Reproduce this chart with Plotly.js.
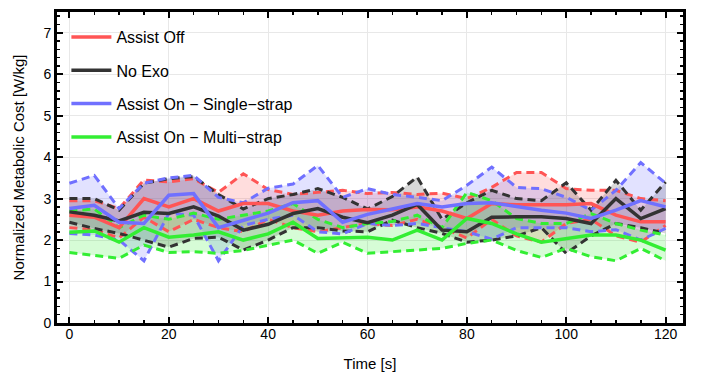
<!DOCTYPE html>
<html>
<head>
<meta charset="utf-8">
<script src="https://cdn.plot.ly/plotly-3.0.1.min.js"></script>
<style>
  html, body { margin: 0; padding: 0; background: #ffffff; }
  #chart { width: 702px; height: 378px; }
</style>
</head>
<body>
<div id="chart"></div>
<script>
// Time axis [s]
const time = [0, 5, 10, 15, 20, 25, 30, 35, 40, 45, 50, 55, 60, 65, 70, 75, 80, 85, 90, 95, 100, 105, 110, 115, 120];

// Assist Off
const offMean  = [2.60, 2.55, 2.30, 3.00, 2.80, 3.00, 2.70, 2.88, 2.88, 2.70, 2.60, 2.70, 2.74, 2.73, 2.80, 2.70, 2.52, 2.88, 2.85, 2.85, 2.85, 2.88, 2.60, 2.44, 2.44];
const offUpper = [2.95, 2.95, 2.76, 3.45, 3.40, 3.48, 3.15, 3.60, 3.22, 3.10, 3.15, 3.20, 3.12, 3.15, 3.10, 3.13, 3.00, 3.27, 3.63, 3.63, 3.24, 3.20, 3.20, 3.00, 2.95];
const offLower = [2.30, 2.25, 2.05, 2.55, 2.20, 2.50, 2.30, 2.20, 2.50, 2.30, 2.20, 2.30, 2.40, 2.35, 2.50, 2.30, 2.05, 2.50, 2.10, 1.95, 2.40, 2.50, 2.10, 1.95, 2.35];

// No Exo
const noExoMean  = [2.68, 2.60, 2.46, 2.67, 2.64, 2.80, 2.58, 2.24, 2.38, 2.64, 2.76, 2.55, 2.42, 2.60, 2.86, 2.24, 2.20, 2.55, 2.56, 2.56, 2.52, 2.40, 3.00, 2.52, 2.76];
const noExoUpper = [3.00, 3.00, 2.72, 3.37, 3.48, 3.53, 3.10, 2.75, 3.00, 3.10, 3.24, 3.03, 2.75, 3.05, 3.52, 2.50, 2.90, 3.20, 3.00, 2.95, 3.38, 2.72, 3.44, 2.72, 3.40];
const noExoLower = [2.43, 2.28, 2.16, 2.00, 1.83, 2.04, 2.07, 1.76, 2.00, 2.30, 2.30, 2.22, 2.20, 2.48, 2.30, 2.16, 1.95, 2.00, 2.10, 2.30, 1.68, 2.10, 2.40, 2.30, 2.16];

// Assist On - Single-strap
const singleMean  = [2.76, 2.84, 2.43, 2.40, 3.08, 3.12, 2.30, 2.48, 2.65, 2.90, 2.95, 2.43, 2.62, 2.75, 2.88, 2.80, 2.88, 2.90, 2.80, 2.72, 2.65, 2.52, 2.72, 2.95, 2.80];
const singleUpper = [3.37, 3.56, 2.76, 3.37, 3.50, 3.56, 3.03, 2.90, 3.25, 3.35, 3.80, 3.03, 3.24, 3.10, 3.03, 2.95, 3.32, 3.76, 3.27, 3.24, 3.03, 2.72, 3.20, 3.87, 3.37];
const singleLower = [2.16, 2.12, 2.00, 1.50, 2.64, 2.60, 1.50, 2.35, 2.50, 2.60, 2.20, 2.15, 2.40, 2.35, 2.40, 2.30, 2.20, 2.02, 2.30, 2.30, 2.30, 2.20, 2.25, 2.00, 2.28];

// Assist On - Multi-strap
const multiMean  = [2.19, 2.22, 1.95, 2.30, 2.07, 2.12, 2.20, 2.00, 2.15, 2.43, 2.04, 2.06, 2.07, 2.00, 2.24, 2.00, 2.52, 2.40, 2.15, 1.95, 2.04, 2.12, 2.12, 2.00, 1.76];
const multiUpper = [2.70, 2.75, 2.30, 2.60, 2.50, 2.65, 2.50, 2.60, 2.70, 2.88, 2.50, 2.30, 2.40, 2.45, 2.60, 2.30, 3.15, 2.95, 2.52, 2.40, 2.40, 2.64, 2.40, 2.24, 2.12];
const multiLower = [1.70, 1.63, 1.56, 1.88, 1.70, 1.72, 1.68, 1.75, 1.87, 2.00, 1.68, 1.95, 1.68, 1.72, 1.75, 1.80, 1.92, 2.00, 1.75, 1.58, 1.80, 1.60, 1.50, 1.80, 1.50];

const seriesNames = ["Assist Off", "No Exo", "Assist On \u2212 Single\u2212strap", "Assist On \u2212 Multi\u2212strap"];
const xTickVals = [0, 20, 40, 60, 80, 100, 120];
const yTickVals = [0, 1, 2, 3, 4, 5, 6, 7];

const series = [
  { name: seriesNames[0], mean: offMean,    upper: offUpper,    lower: offLower,    color: "#ff5555", fill: "rgba(255,85,85,0.2)" },
  { name: seriesNames[1], mean: noExoMean,  upper: noExoUpper,  lower: noExoLower,  color: "#333333", fill: "rgba(60,60,60,0.2)" },
  { name: seriesNames[2], mean: singleMean, upper: singleUpper, lower: singleLower, color: "#7070ff", fill: "rgba(112,112,255,0.2)" },
  { name: seriesNames[3], mean: multiMean,  upper: multiUpper,  lower: multiLower,  color: "#33ee33", fill: "rgba(51,238,51,0.2)" }
];

const traces = [];
series.forEach((s, i) => {
  traces.push({
    x: time.concat(time.slice().reverse()),
    y: s.upper.concat(s.lower.slice().reverse()),
    type: "scatter", mode: "lines", fill: "toself", fillcolor: s.fill,
    line: { width: 0, color: "rgba(0,0,0,0)" },
    hoverinfo: "skip", showlegend: false
  });
});
series.forEach((s, i) => {
  ["upper", "lower"].forEach(k => {
    traces.push({
      x: time, y: s[k], type: "scatter", mode: "lines",
      line: { color: s.color, width: 3, dash: "8px,5px" },
      showlegend: false, hoverinfo: "skip"
    });
  });
});
series.forEach((s, i) => {
  traces.push({
    x: time, y: s.mean, type: "scatter", mode: "lines", name: s.name,
    legendgroup: "g" + i,
    line: { color: s.color, width: 3.5 }
  });
});

const axisCommon = {
  showline: true, linewidth: 3, linecolor: "#000000", mirror: "ticks",
  ticks: "inside", ticklen: 6, tickwidth: 2, tickcolor: "#000000",
  showgrid: true, gridcolor: "#e8e8e8", gridwidth: 1, zeroline: false,
  tickfont: { family: "Liberation Sans, Arial, sans-serif", size: 14, color: "#000000" }
};

const layout = {
  width: 702, height: 378,
  margin: { l: 57, r: 19, t: 12, b: 55 },
  paper_bgcolor: "#ffffff", plot_bgcolor: "#ffffff",
  font: { family: "Liberation Sans, Arial, sans-serif", color: "#000000" },
  showlegend: true,
  legend: {
    x: 0.015, y: 0.974, xanchor: "left", yanchor: "top",
    bgcolor: "rgba(0,0,0,0)", traceorder: "grouped", tracegroupgap: 9.5,
    itemwidth: 40,
    font: { family: "Liberation Sans, Arial, sans-serif", size: 16, color: "#000000" }
  },
  xaxis: Object.assign({}, axisCommon, {
    range: [-2.5, 123.5], tickvals: xTickVals, ticklabelstandoff: -4,
    minor: { dtick: 5, tick0: 0, ticks: "inside", ticklen: 3, tickwidth: 1.5, tickcolor: "#000000", showgrid: false },
    title: { text: "Time [s]", font: { size: 15 }, standoff: 18 }
  }),
  yaxis: Object.assign({}, axisCommon, {
    range: [0, 7.5], tickvals: yTickVals,
    minor: { dtick: 0.2, tick0: 0, ticks: "inside", ticklen: 3, tickwidth: 1.5, tickcolor: "#000000", showgrid: false },
    title: { text: "Normalized Metabolic Cost [W/kg]", font: { size: 15 }, standoff: 16 }
  })
};

Plotly.newPlot("chart", traces, layout, { displayModeBar: false, staticPlot: true });
</script>
</body>
</html>
